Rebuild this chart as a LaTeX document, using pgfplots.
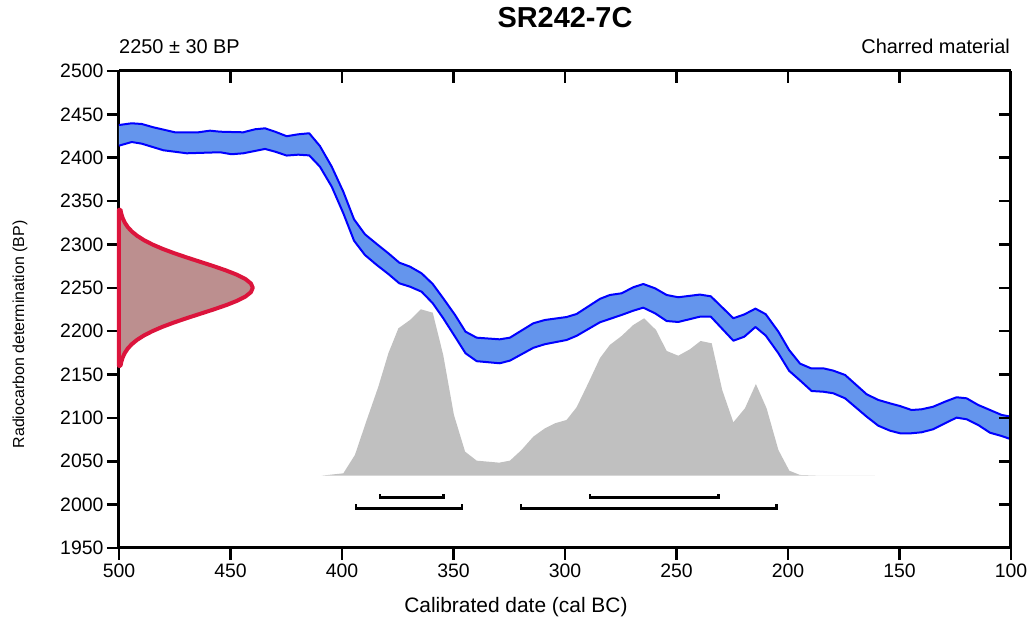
\documentclass[border=0pt]{standalone}
\usepackage{fontspec}
\setmainfont{Liberation Sans}
\usepackage{pgfplots}
\pgfplotsset{compat=1.18}
\definecolor{bandfill}{RGB}{100,149,237}
\definecolor{bandedge}{RGB}{0,0,255}
\definecolor{distgray}{RGB}{192,192,192}
\definecolor{gfill}{RGB}{188,143,143}
\definecolor{gedge}{RGB}{220,20,60}
\begin{document}
\begin{tikzpicture}
\begin{axis}[name=ax, scale only axis, width=892bp, height=477bp,
  x dir=reverse, xmin=100, xmax=500, ymin=1950, ymax=2500,
  xtick={100,150,...,500}, ytick={1950,2000,...,2500},
  axis x line*=bottom, axis y line*=left,
  tick align=outside, major tick length=12bp,
  tick style={line width=2.5bp, black},
  axis line style={line width=3bp, black},
  ticklabel style={font=\fontsize{19.5}{22}\selectfont},
  /pgf/number format/assume math mode=true,
  /pgf/number format/1000 sep={},
  xlabel={Calibrated date (cal BC)},
  ylabel={Radiocarbon determination (BP)},
  xlabel style={font=\fontsize{21}{24}\selectfont, at={(axis description cs:0.445,-0.1237)}, anchor=center},
  ylabel style={font=\fontsize{16}{19}\selectfont, at={(axis description cs:-0.111,0.4476)}, anchor=center, rotate=0},
  clip=false]
% calibrated distribution
\addplot[fill=distgray, draw=none] coordinates {
(409.1,2033.4) (399.4,2036.1) (394.2,2057.3) (388.9,2097.6) (383.7,2136.0)
(379.2,2174.5) (374.7,2203.3) (369.5,2212.9) (364.6,2225.2) (359.3,2221.3)
(354.6,2172.5) (349.8,2103.4) (344.8,2061.1) (339.6,2050.7) (329.5,2048.4)
(324.7,2050.7) (319.5,2063.0) (314.2,2078.4) (309.0,2088.0) (304.5,2093.8)
(299.3,2097.6) (294.8,2112.2) (289.6,2139.9) (284.3,2169.0) (279.9,2184.1)
(274.6,2194.5) (269.4,2207.1) (264.5,2214.9) (259.2,2201.4) (254.4,2177.2)
(249.2,2171.7) (244.0,2179.1) (239.2,2188.7) (234.2,2186.0) (229.5,2132.2)
(224.5,2094.9) (219.3,2111.1) (214.4,2139.1) (209.6,2111.1) (204.3,2063.0)
(199.4,2039.1) (194.6,2034.2) (185.6,2033.4) (161,2033.4)
} -- cycle;
% calibration band fill
\addplot[fill=bandfill, draw=none] coordinates {
(500,2437.7) (494.3,2439.7) (489.8,2438.9) (484.6,2435.1) (474.9,2429.3)
(464.4,2429.3) (459.2,2431.2) (454.7,2430.0) (444.3,2429.3) (439.0,2432.8)
(434.5,2433.9) (430.0,2430.0) (424.8,2424.8) (419.6,2427.0) (414.7,2428.2)
(409.9,2413.5) (404.6,2389.7) (399.4,2360.8) (394.6,2329.0) (389.7,2311.7)
(384.4,2300.5) (379.2,2289.8) (374.3,2279.0) (369.5,2274.4) (364.3,2266.7)
(359.3,2254.4) (354.6,2237.9) (349.3,2218.7) (344.6,2199.4) (339.6,2192.5)
(329.3,2190.6) (324.7,2192.5) (314.2,2209.1) (309.0,2212.9) (299.3,2216.3)
(294.8,2219.8) (284.3,2237.3) (279.9,2241.7) (274.6,2243.7) (269.4,2250.6)
(264.9,2254.4) (259.6,2249.4) (254.4,2241.7) (249.2,2239.1) (239.5,2242.2)
(234.6,2240.2) (224.5,2214.9) (219.6,2219.3) (214.6,2226.0) (210.0,2219.6)
(204.3,2199.4) (199.5,2178.3) (194.6,2162.6) (189.7,2157.2) (184.2,2157.2)
(179.7,2154.5) (174.4,2149.5) (164.7,2127.2) (159.5,2120.7) (154.3,2116.8)
(149.8,2113.7) (144.6,2109.1) (140.1,2109.9) (134.9,2112.9) (129.6,2118.7)
(124.4,2123.8) (119.9,2122.6) (114.7,2114.9) (109.4,2109.1) (104.2,2103.4)
(100,2101.4)
(100,2075.4) (104.2,2079.1) (109.4,2082.9) (114.7,2091.8) (119.9,2098.4)
(124.4,2100.3) (129.6,2093.8) (134.9,2086.9) (140.1,2083.4) (144.6,2082.3)
(149.8,2082.3) (154.3,2085.3) (159.5,2091.0) (164.7,2101.4) (174.4,2122.6)
(179.7,2128.4) (184.2,2130.2) (189.4,2131.0) (194.6,2143.2) (199.5,2154.3)
(204.3,2174.5) (210.0,2195.0) (214.6,2204.8) (219.6,2193.6) (224.5,2189.0)
(234.6,2216.7) (239.5,2216.7) (249.2,2210.6) (254.4,2211.7) (259.6,2220.6)
(264.9,2227.1) (269.4,2223.6) (274.6,2218.7) (279.9,2214.1) (284.3,2210.3)
(294.8,2194.6) (299.3,2189.8) (309.0,2185.0) (314.2,2180.8) (324.7,2166.0)
(329.3,2163.0) (339.6,2165.4) (344.6,2174.5) (349.3,2193.6) (354.6,2214.9)
(359.3,2232.2) (364.3,2245.5) (369.5,2251.3) (374.3,2255.2) (379.2,2265.9)
(384.4,2276.3) (389.7,2287.8) (394.6,2304.3) (399.4,2335.9) (404.6,2366.6)
(409.9,2389.7) (414.7,2402.7) (419.6,2403.5) (424.8,2402.5) (430.0,2407.0)
(434.5,2410.1) (444.3,2405.1) (449.5,2404.0) (454.7,2406.3) (469.6,2405.1)
(480.1,2408.6) (489.8,2416.2) (494.3,2418.1) (500,2413.9)
} -- cycle;
% band edges
\addplot[bandedge, line width=2bp, line join=round] coordinates {
(500,2437.7) (494.3,2439.7) (489.8,2438.9) (484.6,2435.1) (474.9,2429.3)
(464.4,2429.3) (459.2,2431.2) (454.7,2430.0) (444.3,2429.3) (439.0,2432.8)
(434.5,2433.9) (430.0,2430.0) (424.8,2424.8) (419.6,2427.0) (414.7,2428.2)
(409.9,2413.5) (404.6,2389.7) (399.4,2360.8) (394.6,2329.0) (389.7,2311.7)
(384.4,2300.5) (379.2,2289.8) (374.3,2279.0) (369.5,2274.4) (364.3,2266.7)
(359.3,2254.4) (354.6,2237.9) (349.3,2218.7) (344.6,2199.4) (339.6,2192.5)
(329.3,2190.6) (324.7,2192.5) (314.2,2209.1) (309.0,2212.9) (299.3,2216.3)
(294.8,2219.8) (284.3,2237.3) (279.9,2241.7) (274.6,2243.7) (269.4,2250.6)
(264.9,2254.4) (259.6,2249.4) (254.4,2241.7) (249.2,2239.1) (239.5,2242.2)
(234.6,2240.2) (224.5,2214.9) (219.6,2219.3) (214.6,2226.0) (210.0,2219.6)
(204.3,2199.4) (199.5,2178.3) (194.6,2162.6) (189.7,2157.2) (184.2,2157.2)
(179.7,2154.5) (174.4,2149.5) (164.7,2127.2) (159.5,2120.7) (154.3,2116.8)
(149.8,2113.7) (144.6,2109.1) (140.1,2109.9) (134.9,2112.9) (129.6,2118.7)
(124.4,2123.8) (119.9,2122.6) (114.7,2114.9) (109.4,2109.1) (104.2,2103.4)
(100,2101.4)
};
\addplot[bandedge, line width=2bp, line join=round] coordinates {
(500,2413.9) (494.3,2418.1) (489.8,2416.2) (480.1,2408.6) (469.6,2405.1)
(454.7,2406.3) (449.5,2404.0) (444.3,2405.1) (434.5,2410.1) (430.0,2407.0)
(424.8,2402.5) (419.6,2403.5) (414.7,2402.7) (409.9,2389.7) (404.6,2366.6)
(399.4,2335.9) (394.6,2304.3) (389.7,2287.8) (384.4,2276.3) (379.2,2265.9)
(374.3,2255.2) (369.5,2251.3) (364.3,2245.5) (359.3,2232.2) (354.6,2214.9)
(349.3,2193.6) (344.6,2174.5) (339.6,2165.4) (329.3,2163.0) (324.7,2166.0)
(314.2,2180.8) (309.0,2185.0) (299.3,2189.8) (294.8,2194.6) (284.3,2210.3)
(279.9,2214.1) (274.6,2218.7) (269.4,2223.6) (264.9,2227.1) (259.6,2220.6)
(254.4,2211.7) (249.2,2210.6) (239.5,2216.7) (234.6,2216.7) (224.5,2189.0)
(219.6,2193.6) (214.6,2204.8) (210.0,2195.0) (204.3,2174.5) (199.5,2154.3)
(194.6,2143.2) (189.4,2131.0) (184.2,2130.2) (179.7,2128.4) (174.4,2122.6)
(164.7,2101.4) (159.5,2091.0) (154.3,2085.3) (149.8,2082.3) (144.6,2082.3)
(140.1,2083.4) (134.9,2086.9) (129.6,2093.8) (124.4,2100.3) (119.9,2098.4)
(114.7,2091.8) (109.4,2082.9) (104.2,2079.1) (100,2075.4) (100,1950)
};
% radiocarbon determination
\addplot[fill=gfill, draw=gedge, line width=4bp, line join=round] coordinates {
(500,2160) (499.33,2160) (498.92,2165) (498.29,2170) (497.36,2175) (496.06,2180)
(494.26,2185) (491.88,2190) (488.82,2195) (485.03,2200) (480.52,2205)
(475.33,2210) (469.62,2215) (463.61,2220) (457.60,2225) (451.96,2230)
(447.05,2235) (443.24,2240) (440.83,2245) (440,2250) (440.83,2255)
(443.24,2260) (447.05,2265) (451.96,2270) (457.60,2275) (463.61,2280)
(469.62,2285) (475.33,2290) (480.52,2295) (485.03,2300) (488.82,2305)
(491.88,2310) (494.26,2315) (496.06,2320) (497.36,2325) (498.29,2330)
(498.92,2335) (499.33,2340) (500,2340)
} -- cycle;
% ranges
\addplot[black, line width=2.5bp] coordinates {(382.9,2011.9) (382.9,2008.2) (354.4,2008.2) (354.4,2011.9)};
\addplot[black, line width=2.5bp] coordinates {(288.8,2011.9) (288.8,2008.2) (231.2,2008.2) (231.2,2011.9)};
\addplot[black, line width=2.5bp] coordinates {(393.7,2000.4) (393.7,1995.6) (346.1,1995.6) (346.1,2000.4)};
\addplot[black, line width=2.5bp] coordinates {(319.7,2000.4) (319.7,1995.6) (205.1,1995.6) (205.1,2000.4)};
\end{axis}
\begin{axis}[at={(ax.south west)}, anchor=south west, scale only axis, width=892bp, height=477bp,
  x dir=reverse, xmin=100, xmax=500, ymin=1950, ymax=2500,
  xtick={100,150,...,500}, ytick={1950,2000,...,2500},
  axis x line*=top, axis y line*=right,
  tick align=inside, major tick length=12bp,
  tick style={line width=2.5bp, black},
  axis line style={line width=3bp, black},
  xticklabels={}, yticklabels={}]
\end{axis}
\node[anchor=base, font=\bfseries\fontsize{29}{31}\selectfont] at ([yshift=43bp]ax.north) {SR242-7C};
\node[anchor=base west, inner sep=0pt, font=\fontsize{20}{23}\selectfont] at ([yshift=17.7bp]ax.north west) {2250 ± 30 BP};
\node[anchor=base east, inner sep=0pt, font=\fontsize{20}{23}\selectfont] at ([yshift=17.7bp,xshift=-1bp]ax.north east) {Charred material};
\pgfresetboundingbox
\path[use as bounding box] ([shift={(-119bp,-73bp)}]ax.south west) rectangle ([shift={(18bp,71bp)}]ax.north east);
\end{tikzpicture}
\end{document}
